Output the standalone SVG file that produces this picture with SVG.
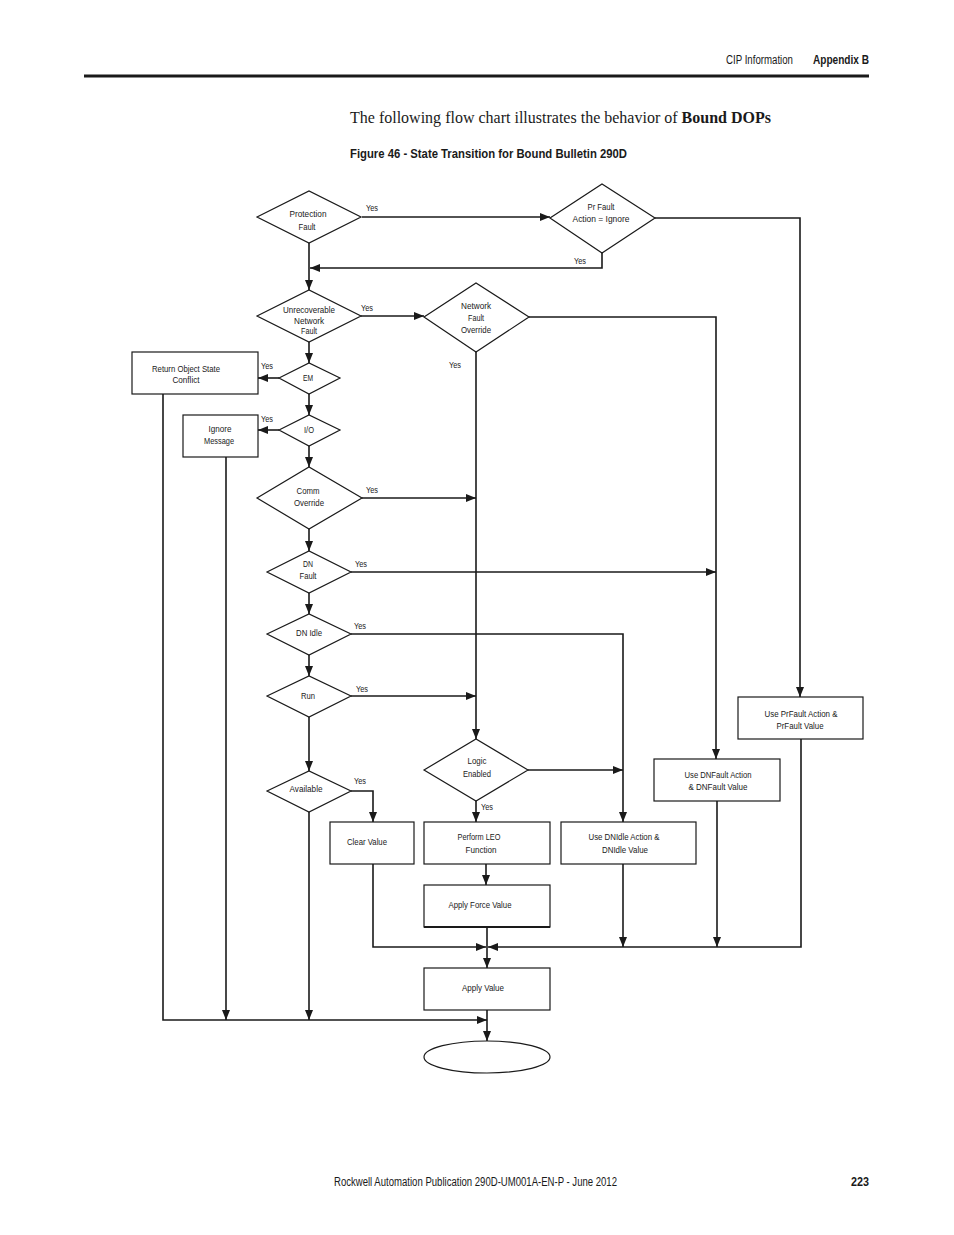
<svg xmlns="http://www.w3.org/2000/svg" width="954" height="1235" viewBox="0 0 954 1235">
<style>
.bg{fill:#fff}
.n{fill:#fff;stroke:#1a1a1a;stroke-width:1.2}
.c{fill:none;stroke:#1a1a1a;stroke-width:1.6}
.t{font-family:"Liberation Sans Narrow","Liberation Sans",sans-serif;font-size:9.5px;fill:#1a1a1a;text-anchor:middle}
.y{font-family:"Liberation Sans Narrow","Liberation Sans",sans-serif;font-size:9.5px;fill:#1a1a1a}
.hd{font-family:"Liberation Sans Narrow","Liberation Sans",sans-serif;font-size:12px;fill:#1a1a1a}
</style>
<defs>
<marker id="a" markerUnits="userSpaceOnUse" markerWidth="10" markerHeight="10" viewBox="0 0 10 10" refX="10" refY="5" orient="auto">
<path d="M0,1 L10,5 L0,9 Z" fill="#1a1a1a"/>
</marker>
</defs>
<rect class="bg" x="0" y="0" width="954" height="1235"/>
<g id="header">
<text class="hd" x="726" y="64" textLength="67" lengthAdjust="spacingAndGlyphs">CIP Information</text>
<text class="hd" x="813" y="64" font-weight="bold" textLength="56" lengthAdjust="spacingAndGlyphs">Appendix B</text>
<line x1="84" y1="76" x2="869" y2="76" stroke="#1a1a1a" stroke-width="3"/>
<text x="350" y="123" font-family="'Liberation Serif',serif" font-size="16" fill="#1a1a1a" textLength="421" lengthAdjust="spacingAndGlyphs">The following flow chart illustrates the behavior of <tspan font-weight="bold">Bound DOPs</tspan></text>
<text class="hd" x="350" y="158" font-weight="bold" font-size="13" textLength="277" lengthAdjust="spacingAndGlyphs">Figure 46 - State Transition for Bound Bulletin 290D</text>
</g>
<g id="connectors">
<path class="c" d="M362 217 H550" marker-end="url(#a)"/>
<path class="c" d="M602 253 V268 H310" marker-end="url(#a)"/>
<path class="c" d="M309 243 V290" marker-end="url(#a)"/>
<path class="c" d="M361 316 H424" marker-end="url(#a)"/>
<path class="c" d="M309 342 V363" marker-end="url(#a)"/>
<path class="c" d="M279 378 H258" marker-end="url(#a)"/>
<path class="c" d="M309 394 V415" marker-end="url(#a)"/>
<path class="c" d="M279 430 H258" marker-end="url(#a)"/>
<path class="c" d="M309 446 V467" marker-end="url(#a)"/>
<path class="c" d="M362 498 H476" marker-end="url(#a)"/>
<path class="c" d="M309 529 V551" marker-end="url(#a)"/>
<path class="c" d="M351 572 H716" marker-end="url(#a)"/>
<path class="c" d="M309 593 V614" marker-end="url(#a)"/>
<path class="c" d="M351 634 H623 V822" marker-end="url(#a)"/>
<path class="c" d="M309 655 V676" marker-end="url(#a)"/>
<path class="c" d="M351 696 H476" marker-end="url(#a)"/>
<path class="c" d="M309 717 V771" marker-end="url(#a)"/>
<path class="c" d="M351 791 H373 V822" marker-end="url(#a)"/>
<path class="c" d="M309 812 V1020" marker-end="url(#a)"/>
<path class="c" d="M476 352 V739" marker-end="url(#a)"/>
<path class="c" d="M529 317 H716 V759" marker-end="url(#a)"/>
<path class="c" d="M655 218 H800 V697" marker-end="url(#a)"/>
<path class="c" d="M528 770 H623" marker-end="url(#a)"/>
<path class="c" d="M476 801 V822" marker-end="url(#a)"/>
<path class="c" d="M486 864 V885" marker-end="url(#a)"/>
<path class="c" d="M487 927 V968" marker-end="url(#a)"/>
<path class="c" d="M373 864 V947 H486" marker-end="url(#a)"/>
<path class="c" d="M801 739 V947 H488" marker-end="url(#a)"/>
<path class="c" d="M623 864 V947" marker-end="url(#a)"/>
<path class="c" d="M717 801 V947" marker-end="url(#a)"/>
<path class="c" d="M163 394 V1020 H487" marker-end="url(#a)"/>
<path class="c" d="M226 457 V1020" marker-end="url(#a)"/>
<path class="c" d="M487 1010 V1041" marker-end="url(#a)"/>
<text class="y" x="366" y="211" textLength="12" lengthAdjust="spacingAndGlyphs">Yes</text>
<text class="y" x="574" y="264" textLength="12" lengthAdjust="spacingAndGlyphs">Yes</text>
<text class="y" x="361" y="311" textLength="12" lengthAdjust="spacingAndGlyphs">Yes</text>
<text class="y" x="449" y="368" textLength="12" lengthAdjust="spacingAndGlyphs">Yes</text>
<text class="y" x="261" y="369" textLength="12" lengthAdjust="spacingAndGlyphs">Yes</text>
<text class="y" x="261" y="422" textLength="12" lengthAdjust="spacingAndGlyphs">Yes</text>
<text class="y" x="366" y="493" textLength="12" lengthAdjust="spacingAndGlyphs">Yes</text>
<text class="y" x="355" y="567" textLength="12" lengthAdjust="spacingAndGlyphs">Yes</text>
<text class="y" x="354" y="629" textLength="12" lengthAdjust="spacingAndGlyphs">Yes</text>
<text class="y" x="356" y="692" textLength="12" lengthAdjust="spacingAndGlyphs">Yes</text>
<text class="y" x="354" y="784" textLength="12" lengthAdjust="spacingAndGlyphs">Yes</text>
<text class="y" x="481" y="810" textLength="12" lengthAdjust="spacingAndGlyphs">Yes</text>
</g>
<g id="protection-fault">
<polygon class="n" points="257,217 309,191 361,217 309,243"/>
<text class="t" x="308" y="217" textLength="37" lengthAdjust="spacingAndGlyphs">Protection</text>
<text class="t" x="307" y="230" textLength="17" lengthAdjust="spacingAndGlyphs">Fault</text>
</g>
<g id="pr-fault">
<polygon class="n" points="550,218 602,184 655,218 602,253"/>
<text class="t" x="601" y="210" textLength="27" lengthAdjust="spacingAndGlyphs">Pr Fault</text>
<text class="t" x="601" y="222" textLength="57" lengthAdjust="spacingAndGlyphs">Action = Ignore</text>
</g>
<g id="unrecoverable">
<polygon class="n" points="257,316 309,290 361,316 309,342"/>
<text class="t" x="309" y="313" textLength="52" lengthAdjust="spacingAndGlyphs">Unrecoverable</text>
<text class="t" x="309" y="324" textLength="30" lengthAdjust="spacingAndGlyphs">Network</text>
<text class="t" x="309" y="334" textLength="16" lengthAdjust="spacingAndGlyphs">Fault</text>
</g>
<g id="network-fault-override">
<polygon class="n" points="424,317 476,283 529,317 476,352"/>
<text class="t" x="476" y="309" textLength="30" lengthAdjust="spacingAndGlyphs">Network</text>
<text class="t" x="476" y="321" textLength="16" lengthAdjust="spacingAndGlyphs">Fault</text>
<text class="t" x="476" y="333" textLength="30" lengthAdjust="spacingAndGlyphs">Override</text>
</g>
<g id="return-object">
<rect class="n" x="132" y="352" width="126" height="42"/>
<text class="t" x="186" y="372" textLength="68" lengthAdjust="spacingAndGlyphs">Return Object State</text>
<text class="t" x="186" y="383" textLength="27" lengthAdjust="spacingAndGlyphs">Conflict</text>
</g>
<g id="em">
<polygon class="n" points="279,378 309,363 340,378 309,394"/>
<text class="t" x="308" y="381" textLength="10" lengthAdjust="spacingAndGlyphs">EM</text>
</g>
<g id="ignore-message">
<rect class="n" x="183" y="415" width="75" height="42"/>
<text class="t" x="220" y="432" textLength="23" lengthAdjust="spacingAndGlyphs">Ignore</text>
<text class="t" x="219" y="444" textLength="30" lengthAdjust="spacingAndGlyphs">Message</text>
</g>
<g id="io">
<polygon class="n" points="279,430 309,415 340,430 309,446"/>
<text class="t" x="309" y="433" textLength="10" lengthAdjust="spacingAndGlyphs">I/O</text>
</g>
<g id="comm-override">
<polygon class="n" points="257,498 309,467 362,498 309,529"/>
<text class="t" x="308" y="494" textLength="23" lengthAdjust="spacingAndGlyphs">Comm</text>
<text class="t" x="309" y="506" textLength="30" lengthAdjust="spacingAndGlyphs">Override</text>
</g>
<g id="dn-fault">
<polygon class="n" points="267,572 309,551 351,572 309,593"/>
<text class="t" x="308" y="567" textLength="10" lengthAdjust="spacingAndGlyphs">DN</text>
<text class="t" x="308" y="579" textLength="17" lengthAdjust="spacingAndGlyphs">Fault</text>
</g>
<g id="dn-idle">
<polygon class="n" points="267,634 309,614 351,634 309,655"/>
<text class="t" x="309" y="636" textLength="26" lengthAdjust="spacingAndGlyphs">DN Idle</text>
</g>
<g id="run">
<polygon class="n" points="267,696 309,676 351,696 309,717"/>
<text class="t" x="308" y="699" textLength="14" lengthAdjust="spacingAndGlyphs">Run</text>
</g>
<g id="available">
<polygon class="n" points="267,791 309,771 351,791 309,812"/>
<text class="t" x="306" y="792" textLength="33" lengthAdjust="spacingAndGlyphs">Available</text>
</g>
<g id="logic-enabled">
<polygon class="n" points="424,770 476,739 528,770 476,801"/>
<text class="t" x="477" y="764" textLength="19" lengthAdjust="spacingAndGlyphs">Logic</text>
<text class="t" x="477" y="777" textLength="28" lengthAdjust="spacingAndGlyphs">Enabled</text>
</g>
<g id="clear-value">
<rect class="n" x="330" y="822" width="84" height="42"/>
<text class="t" x="367" y="845" textLength="40" lengthAdjust="spacingAndGlyphs">Clear Value</text>
</g>
<g id="perform-leo">
<rect class="n" x="424" y="822" width="126" height="42"/>
<text class="t" x="479" y="840" textLength="43" lengthAdjust="spacingAndGlyphs">Perform LEO</text>
<text class="t" x="481" y="853" textLength="31" lengthAdjust="spacingAndGlyphs">Function</text>
</g>
<g id="use-dnidle">
<rect class="n" x="561" y="822" width="135" height="42"/>
<text class="t" x="624" y="840" textLength="71" lengthAdjust="spacingAndGlyphs">Use DNIdle Action &amp;</text>
<text class="t" x="625" y="853" textLength="46" lengthAdjust="spacingAndGlyphs">DNIdle Value</text>
</g>
<g id="use-dnfault">
<rect class="n" x="654" y="759" width="126" height="42"/>
<text class="t" x="718" y="778" textLength="67" lengthAdjust="spacingAndGlyphs">Use DNFault Action</text>
<text class="t" x="718" y="790" textLength="59" lengthAdjust="spacingAndGlyphs">&amp; DNFault Value</text>
</g>
<g id="use-prfault">
<rect class="n" x="738" y="697" width="125" height="42"/>
<text class="t" x="801" y="717" textLength="73" lengthAdjust="spacingAndGlyphs">Use PrFault Action &amp;</text>
<text class="t" x="800" y="729" textLength="47" lengthAdjust="spacingAndGlyphs">PrFault Value</text>
</g>
<g id="apply-force">
<rect class="n" x="424" y="885" width="126" height="42"/>
<line x1="424" y1="927" x2="550" y2="927" stroke="#1a1a1a" stroke-width="2"/>
<text class="t" x="480" y="908" textLength="63" lengthAdjust="spacingAndGlyphs">Apply Force Value</text>
</g>
<g id="apply-value">
<rect class="n" x="424" y="968" width="126" height="42"/>
<text class="t" x="483" y="991" textLength="42" lengthAdjust="spacingAndGlyphs">Apply Value</text>
</g>
<g id="end">
<ellipse class="n" cx="487" cy="1057" rx="63" ry="16"/>
</g>
<g id="footer">
<text class="hd" x="334" y="1186" textLength="283" lengthAdjust="spacingAndGlyphs">Rockwell Automation Publication 290D-UM001A-EN-P - June 2012</text>
<text class="hd" x="851" y="1186" font-weight="bold" textLength="18" lengthAdjust="spacingAndGlyphs">223</text>
</g>
</svg>
